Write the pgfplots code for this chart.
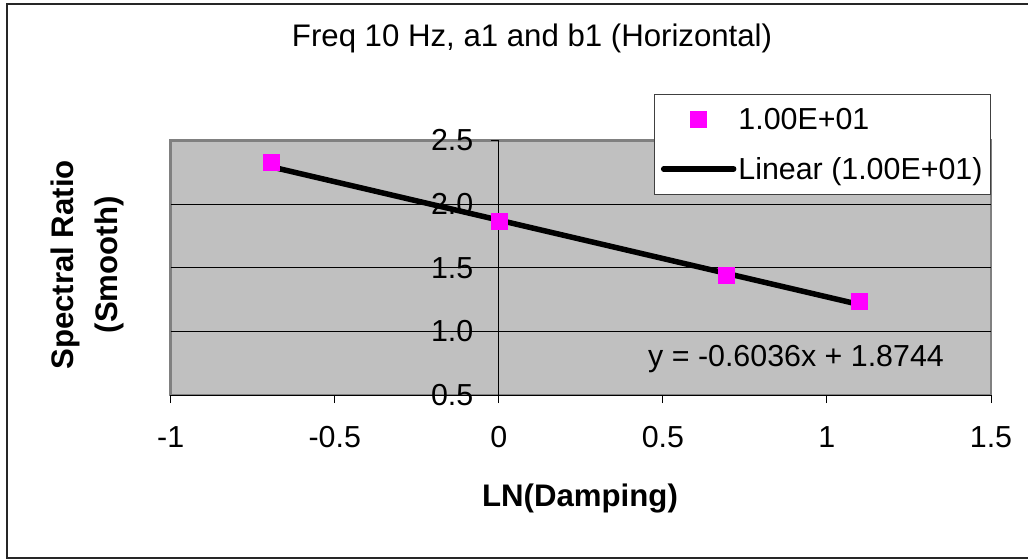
\documentclass[border=0pt]{standalone}
\usepackage{pgfplots}
\pgfplotsset{compat=1.18}
\usepackage{fontspec}
\setmainfont{Liberation Sans}

\definecolor{plotgray}{HTML}{C0C0C0}
\definecolor{bordergray}{HTML}{808080}
\definecolor{ptmagenta}{HTML}{FF00FF}

\newcommand\ticksize{\fontsize{30.5}{35}\selectfont}
\newcommand\labelsize{\fontsize{31.3}{44}\selectfont}

\begin{document}
\begin{tikzpicture}
\useasboundingbox (0bp,0bp) rectangle (1028bp,559bp);
% outer chart frame
\draw[line width=1.5bp, black!85] (7bp,555bp) rectangle (1040bp,1bp);

\begin{axis}[
  at={(170.7bp,164bp)}, anchor=south west,
  scale only axis, width=820.3bp, height=254.5bp,
  xmin=-1, xmax=1.5, ymin=0.5, ymax=2.5,
  axis background/.style={fill=plotgray, draw=bordergray, line width=2.5bp},
  axis x line=bottom, axis y line=center,
  axis line style={-, black, line width=1bp},
  tick style={black, line width=1bp},
  tick align=outside, major tick length=8bp,
  hide obscured x ticks=false, hide obscured y ticks=false,
  xtick={-1,-0.5,0,0.5,1,1.5},
  ytick={0.5,1,1.5,2,2.5},
  extra y ticks={1,1.5,2},
  extra y tick labels={},
  extra y tick style={ymajorgrids=true, major tick length=0pt},
  grid style={black, line width=0.9bp},
  /pgf/number format/assume math mode=true,
  tick label style={font=\ticksize, black},
  yticklabel style={/pgf/number format/.cd, fixed, fixed zerofill, precision=1, /tikz/.cd, xshift=-14bp},
  xticklabel style={yshift=-20bp},
  title={Freq 10 Hz, a1 and b1 (Horizontal)},
  title style={font=\labelsize, at={(0.4405,1.379)}, anchor=center},
  xlabel={\textbf{LN(Damping)}},
  xlabel style={font=\labelsize, at={(0.499,-0.405)}, anchor=center},
  ylabel={\textbf{Spectral Ratio}\\\textbf{(Smooth)}},
  ylabel style={font=\labelsize, align=center, at={(-0.102,0.511)}, anchor=center, rotate=90},
  legend style={at={(1.0,1.1827)}, anchor=north east, draw=black!75, line width=1bp,
    fill=white, font=\ticksize, inner xsep=6bp, inner ysep=12bp, row sep=22bp,
    /tikz/every even column/.append style={column sep=4bp}},
  legend cell align=left,
]
% measured spectral ratios against ln(damping)
\addplot[only marks, mark=square*, mark size=8bp,
  mark options={draw=ptmagenta, fill=ptmagenta},
  legend image code/.code={\draw plot coordinates {(35bp,0bp)};}]
  coordinates {(-0.6931,2.326) (0,1.862) (0.6931,1.438) (1.0986,1.241)};
\addlegendentry{1.00E+01}
% least-squares trend line y = -0.6036x + 1.8744
\addplot[black, line width=5.5bp, line cap=round,
  legend image code/.code={\draw (0bp,0bp) -- (70bp,0bp);}]
  coordinates {(-0.6931,2.2928) (1.0986,1.2113)};
\addlegendentry{Linear (1.00E+01)}
\end{axis}

\node[anchor=base west, font=\ticksize, inner sep=0pt] at (648bp,192.3bp) {y = -0.6036x + 1.8744};
\end{tikzpicture}
\end{document}
